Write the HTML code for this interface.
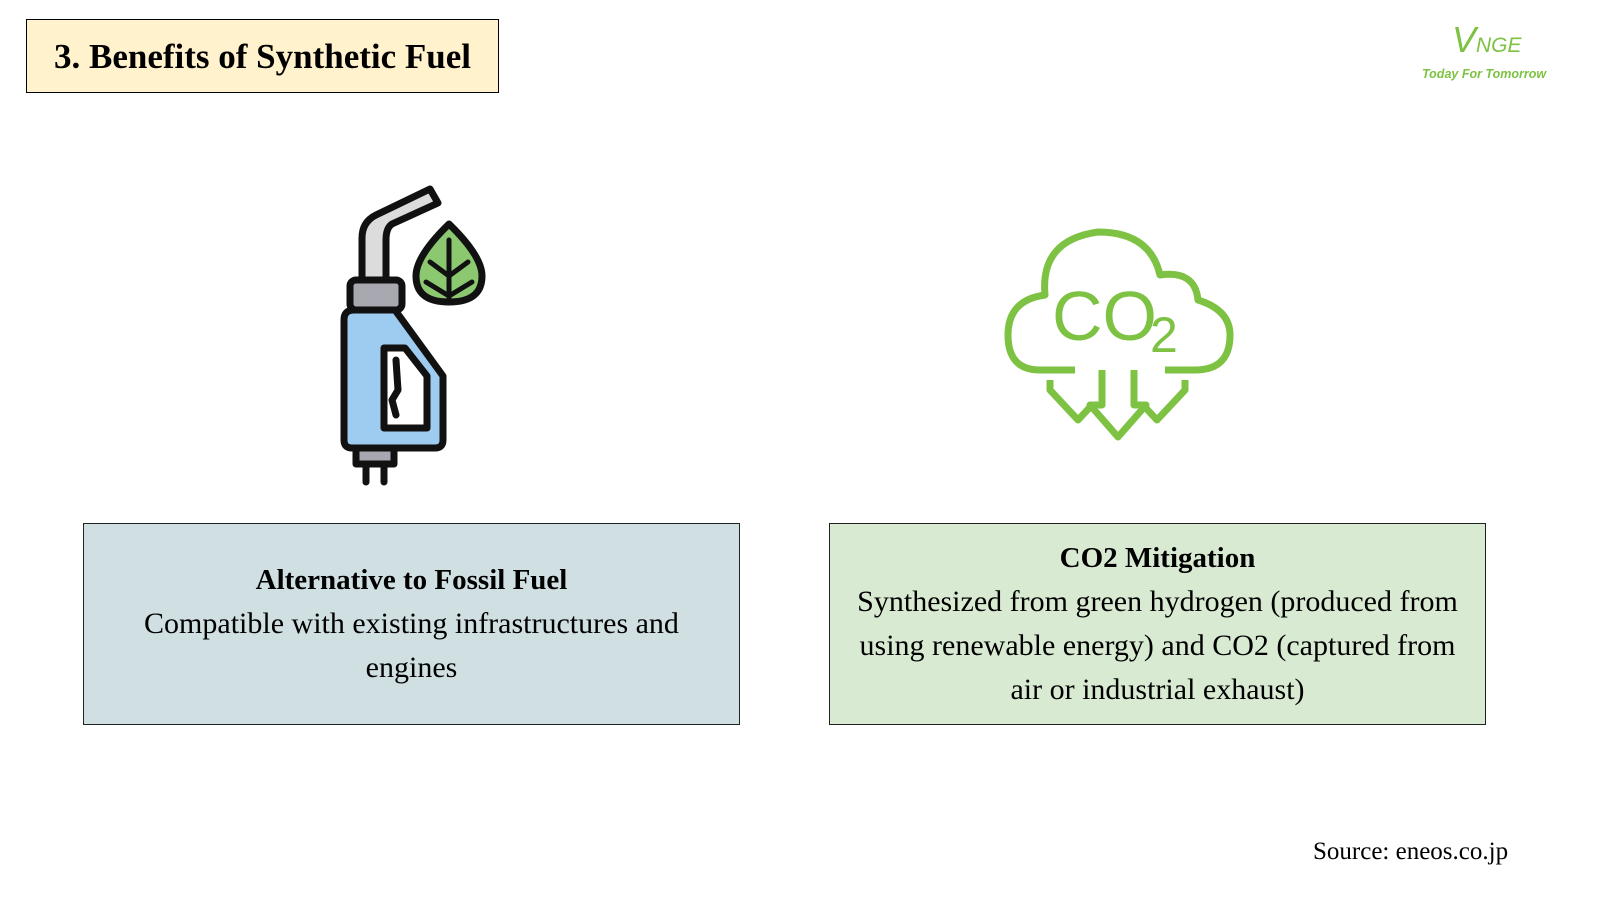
<!DOCTYPE html>
<html><head><meta charset="utf-8"><style>
body{margin:0;width:1600px;height:900px;background:#fff;position:relative;overflow:hidden;font-family:"Liberation Serif",serif;}
.t{position:absolute;left:26px;top:19px;width:471px;height:72px;background:#fff2cc;border:1.5px solid #000;font-weight:bold;font-size:35px;line-height:74px;text-align:center;}
.b{position:absolute;top:523px;width:655px;height:200px;border:1.5px solid #222;text-align:center;font-size:30px;line-height:44px;display:flex;flex-direction:column;justify-content:center;}
.b b{font-size:29px}
</style></head><body>
<div class="t">3. Benefits of Synthetic Fuel</div>
<div style="position:absolute;left:1452px;top:20px;color:#7dc242;font-family:'Liberation Sans',sans-serif;font-style:italic;font-size:36px;line-height:40px">V<span style="font-size:21px">NGE</span></div>
<div style="position:absolute;left:1422px;top:67px;color:#7dc242;font-family:'Liberation Sans',sans-serif;font-style:italic;font-weight:bold;font-size:12.5px">Today For Tomorrow</div>

<svg style="position:absolute;left:0;top:0" width="1600" height="900">
 <g stroke="#111" stroke-width="7" stroke-linejoin="round" stroke-linecap="round">
  <path d="M362 280 L362 238 Q362 222 376 215 L430 189 L438 203 L392 224 Q386 228 386 240 L386 280 Z" fill="#dcdcdc"/>
  <rect x="350" y="280" width="52" height="30" rx="6" fill="#a8a8b0"/>
  <path d="M344 320 Q344 310 354 310 L395 310 L443 376 L443 440 Q443 448 435 448 L352 448 Q344 448 344 440 Z" fill="#9ecbf0"/>
  <path d="M384 348 L405 348 L427 376 L427 428 L384 428 Z" fill="#fff"/>
  <path d="M396 360 L398 390 L392 400 L396 415" fill="none"/>
  <rect x="356" y="448" width="38" height="16" fill="#a8a8b0"/>
  <line x1="366" y1="464" x2="366" y2="482"/><line x1="384" y1="464" x2="384" y2="482"/>
  <path d="M449 224 Q482 256 482 276 Q482 302 449 302 Q416 302 416 276 Q416 256 449 224 Z" fill="#8cc870"/>
  <path d="M449 240 L449 298 M430 262 L449 276 L468 262 M426 282 L449 296 L472 282" fill="none" stroke-width="5"/>
 </g>
 <g stroke="#7dc242" stroke-width="7" fill="none" stroke-linejoin="round">
  <path d="M1075 370 L1040 370 Q1008 370 1008 335 Q1008 300 1045 295 Q1040 240 1098 232 Q1150 232 1160 275 Q1195 270 1198 300 Q1230 310 1230 335 Q1230 370 1195 370 L1165 370"/>
  <path d="M1050 380 L1050 390 L1078 420 L1092 405"/>
  <path d="M1185 380 L1185 390 L1157 420 L1143 405"/>
  <path d="M1102 370 L1102 405 L1090 405 L1118 437 L1146 405 L1134 405 L1134 370"/>
 </g>
 <text x="1052" y="340" fill="#7dc242" font-family="Liberation Sans,sans-serif" font-size="70">CO</text>
 <text x="1150" y="352" fill="#7dc242" font-family="Liberation Sans,sans-serif" font-size="50">2</text>
</svg>

<div class="b" style="left:83px;background:#d0dfe2"><b>Alternative to Fossil Fuel</b>Compatible with existing infrastructures and<br>engines</div>
<div class="b" style="left:829px;background:#d9ead3"><b>CO2 Mitigation</b>Synthesized from green hydrogen (produced from<br>using renewable energy) and CO2 (captured from<br>air or industrial exhaust)</div>
<div style="position:absolute;left:1313px;top:838px;font-size:25px">Source: eneos.co.jp</div>
</body></html>
